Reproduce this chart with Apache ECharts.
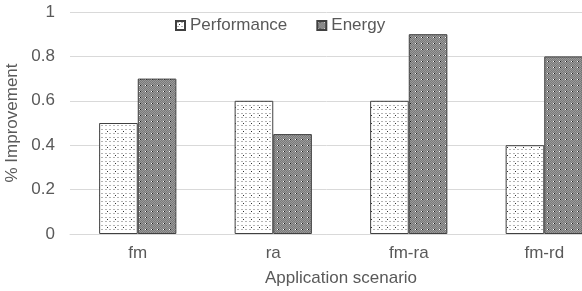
<!DOCTYPE html>
<html>
<head>
<meta charset="utf-8">
<script src="https://cdn.jsdelivr.net/npm/echarts@6/dist/echarts.min.js"></script>
<style>
  html, body { margin: 0; padding: 0; background: #fff; }
  #charts { width: 582px; height: 291px; }
</style>
</head>
<body>
<div id="charts"></div>
<script>
var categories = ['fm', 'ra', 'fm-ra', 'fm-rd'];
var seriesNames = ['Performance', 'Energy'];
var performance = [0.5, 0.6, 0.6, 0.4];
var energy = [0.7, 0.45, 0.9, 0.8];

// small repeating tiles to mimic the Excel pattern fills
function dotTile() {
    var c = document.createElement('canvas');
    c.width = 8; c.height = 8;
    var g = c.getContext('2d');
    g.fillStyle = '#ffffff';
    g.fillRect(0, 0, 8, 8);
    g.fillStyle = '#b4b4b4';
    g.fillRect(1, 1, 2, 1);
    g.fillRect(5, 1, 2, 1);
    g.fillRect(1, 5, 2, 1);
    g.fillRect(5, 5, 2, 1);
    g.fillStyle = '#303030';
    g.fillRect(3, 3, 1, 1);
    return c;
}
function checkTile() {
    var c = document.createElement('canvas');
    c.width = 6; c.height = 6;
    var g = c.getContext('2d');
    for (var y = 0; y < 6; y++) {
        for (var x = 0; x < 6; x++) {
            g.fillStyle = (x + y) % 2 ? '#7a7a7a' : '#9a9a9a';
            g.fillRect(x, y, 1, 1);
        }
    }
    g.fillStyle = '#ffffff';
    g.fillRect(1, 1, 1, 1);
    g.fillStyle = '#1a1a1a';
    g.fillRect(2, 1, 1, 1);
    return c;
}

var textColor = '#595959';
var font = 'Liberation Sans, Arial, sans-serif';
var fs = 17;

var myChart = echarts.init(document.getElementById('charts'), null, { renderer: 'canvas' });

var option = {
    animation: false,
    textStyle: { fontFamily: font, color: textColor },
    // plot runs past the right edge of the picture, as in the reference crop
    grid: { left: 70, top: 12, width: 542, height: 222, outerBoundsMode: 'none' },
    legend: {
        left: 170,
        top: 12,
        icon: 'rect',
        itemWidth: 9,
        itemHeight: 9,
        itemGap: 29,
        textStyle: { fontFamily: font, fontSize: fs, color: textColor },
        data: seriesNames
    },
    xAxis: {
        type: 'category',
        data: categories,
        name: 'Application scenario',
        nameLocation: 'middle',
        nameGap: 36,
        nameTextStyle: { fontFamily: font, fontSize: fs, color: textColor },
        axisLine: { lineStyle: { color: '#d9d9d9', width: 1 } },
        axisTick: { show: false },
        axisLabel: { fontFamily: font, fontSize: fs, color: textColor, margin: 11 }
    },
    yAxis: {
        type: 'value',
        min: 0,
        max: 1,
        interval: 0.2,
        name: '% Improvement',
        nameLocation: 'middle',
        nameGap: 44,
        nameTextStyle: { fontFamily: font, fontSize: fs, color: textColor },
        axisLine: { show: false },
        axisTick: { show: false },
        axisLabel: { fontFamily: font, fontSize: fs, color: textColor, margin: 15 },
        splitLine: { lineStyle: { color: '#d9d9d9', width: 1 } }
    },
    series: [
        {
            name: seriesNames[0],
            type: 'bar',
            data: performance,
            barGap: '0%',
            barCategoryGap: '43%',
            itemStyle: {
                color: { image: dotTile(), repeat: 'repeat' },
                borderColor: '#404040',
                borderWidth: 1
            }
        },
        {
            name: seriesNames[1],
            type: 'bar',
            data: energy,
            barGap: '0%',
            barCategoryGap: '43%',
            itemStyle: {
                color: { image: checkTile(), repeat: 'repeat' },
                borderColor: '#404040',
                borderWidth: 1
            }
        }
    ]
};
myChart.setOption(option);
</script>
</body>
</html>
